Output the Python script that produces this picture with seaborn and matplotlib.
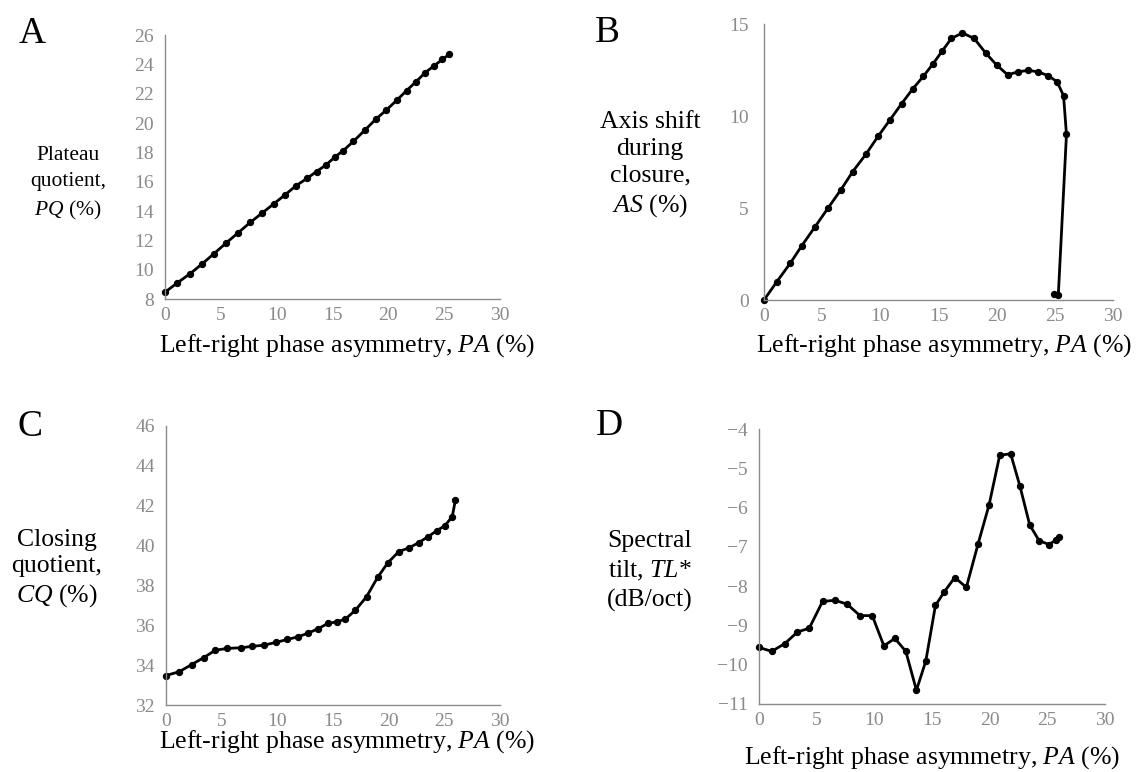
import matplotlib
matplotlib.use("Agg")
import matplotlib.pyplot as plt
import seaborn as sns
import pandas as pd

# Left-right phase asymmetry PA (%) and the four glottal measures
pa_a = [0, 1.1, 2.26, 3.33, 4.39, 5.46, 6.53, 7.63, 8.7, 9.74, 10.75, 11.73, 12.71, 13.57,
        14.43, 15.2, 15.97, 16.86, 17.87, 18.88, 19.83, 20.78, 21.64, 22.48, 23.31, 24.11,
        24.85, 25.45]
pq = [8.46, 9.1, 9.73, 10.4, 11.09, 11.81, 12.5, 13.22, 13.86, 14.49, 15.1, 15.72, 16.22,
      16.69, 17.15, 17.67, 18.12, 18.74, 19.49, 20.26, 20.89, 21.57, 22.21, 22.82, 23.44,
      23.91, 24.34, 24.68]

pa_b = [0, 1.11, 2.26, 3.26, 4.4, 5.51, 6.6, 7.63, 8.77, 9.8, 10.83, 11.83, 12.77, 13.69,
        14.51, 15.34, 16.11, 17.06, 18.06, 19.06, 20.0, 20.94, 21.83, 22.71, 23.57, 24.43,
        25.2, 25.75, 26.0, 25.3, 24.95]
axis_shift = [0, 1.0, 2.0, 2.96, 3.99, 5.0, 5.98, 6.98, 7.93, 8.89, 9.79, 10.67, 11.46,
              12.15, 12.82, 13.55, 14.22, 14.51, 14.22, 13.42, 12.77, 12.24, 12.4, 12.48,
              12.4, 12.19, 11.86, 11.1, 9.0, 0.28, 0.35]

pa_c = [0, 1.19, 2.31, 3.39, 4.44, 5.51, 6.7, 7.7, 8.76, 9.87, 10.89, 11.85, 12.78, 13.63,
        14.53, 15.38, 16.11, 17.02, 18.01, 19.0, 19.93, 20.9, 21.83, 22.68, 23.52, 24.31,
        25.05, 25.71, 26.0]
cq = [33.48, 33.67, 34.03, 34.38, 34.75, 34.84, 34.87, 34.94, 35.0, 35.14, 35.29, 35.42,
      35.61, 35.82, 36.09, 36.18, 36.31, 36.76, 37.43, 38.4, 39.14, 39.69, 39.89, 40.14,
      40.44, 40.74, 41.0, 41.45, 42.3]

pa_d = [0, 1.1, 2.25, 3.32, 4.36, 5.51, 6.58, 7.65, 8.75, 9.82, 10.83, 11.78, 12.73, 13.65,
        14.46, 15.3, 16.08, 16.97, 17.98, 18.99, 19.95, 20.87, 21.82, 22.63, 23.47, 24.28,
        25.14, 25.72, 26.0]
tilt = [-9.56, -9.66, -9.46, -9.17, -9.07, -8.39, -8.36, -8.46, -8.75, -8.75, -9.52, -9.33,
        -9.66, -10.65, -9.91, -8.49, -8.14, -7.78, -8.03, -6.93, -5.93, -4.67, -4.63, -5.46,
        -6.44, -6.84, -6.94, -6.83, -6.76]

xticks = [0, 5, 10, 15, 20, 25, 30]
yticks_a = [8, 10, 12, 14, 16, 18, 20, 22, 24, 26]
yticks_b = [0, 5, 10, 15]
yticks_c = [32, 34, 36, 38, 40, 42, 44, 46]
yticks_d = [-11, -10, -9, -8, -7, -6, -5, -4]

sns.set_style("white")
plt.rcParams["font.family"] = ["Liberation Serif", "DejaVu Serif"]
plt.rcParams["mathtext.fontset"] = "custom"
plt.rcParams["mathtext.rm"] = "Liberation Serif"
plt.rcParams["mathtext.it"] = "Liberation Serif:italic"

W, H = 1141, 772
fig = plt.figure(figsize=(W / 100, H / 100), dpi=100)
GREY = "#8a8a8a"


def add_panel(left, right, top, bottom):
    return fig.add_axes([left / W, 1 - bottom / H, (right - left) / W, (bottom - top) / H])


def style(ax, x, y, yticks, ylim, ypad=5):
    df = pd.DataFrame({"x": x, "y": y})
    sns.lineplot(data=df, x="x", y="y", ax=ax, sort=False, color="black", linewidth=2.0,
                 marker="o", markersize=4.5, markeredgecolor="black", estimator=None)
    ax.set_xlim(0, 30)
    ax.set_ylim(*ylim)
    ax.set_xticks(xticks)
    ax.set_yticks(yticks)
    ax.set_xlabel("")
    ax.set_ylabel("")
    for s in ("top", "right"):
        ax.spines[s].set_visible(False)
    for s in ("left", "bottom"):
        ax.spines[s].set_color(GREY)
        ax.spines[s].set_linewidth(1.0)
    ax.tick_params(axis="both", direction="out", length=3, width=1.0, color=GREY,
                   labelcolor=GREY, labelsize=14)
    ax.tick_params(axis="x", pad=3)
    ax.tick_params(axis="y", pad=ypad)
    ax.patch.set_alpha(0)
    for line in ax.lines:
        line.set_clip_on(False)


axA = add_panel(165, 500, 35, 299)
style(axA, pa_a, pq, yticks_a, (8, 26))
axB = add_panel(764, 1113, 24, 300)
style(axB, pa_b, axis_shift, yticks_b, (0, 15), ypad=8)
axC = add_panel(166, 500, 426, 705)
style(axC, pa_c, cq, yticks_c, (32, 46))
axD = add_panel(759, 1105, 429, 704)
style(axD, pa_d, tilt, yticks_d, (-11, -4))


def ftext(x, y, s, **kw):
    fig.text(x / W, 1 - y / H, s, ha="center", va="center", color="black", **kw)


for letter, (x, y) in {"A": (32, 34), "B": (607, 33), "C": (30, 427), "D": (609, 426)}.items():
    ftext(x, y, letter, fontsize=27)

LAB = 18.5
ftext(68, 184, "Plateau\nquotient,\n$PQ$ (%)", fontsize=15.5, linespacing=1.5)
ftext(650, 165, "Axis shift\nduring\nclosure,\n$AS$ (%)", fontsize=LAB, linespacing=1.3)
ftext(57, 569, "Closing\nquotient,\n$CQ$ (%)", fontsize=LAB, linespacing=1.25)
ftext(650, 571, "Spectral\ntilt, $TL$*\n(dB/oct)", fontsize=LAB, linespacing=1.35)

xlabel = "Left-right phase asymmetry, $PA$ (%)"
ftext(347, 346, xlabel, fontsize=LAB)
ftext(944, 346, xlabel, fontsize=LAB)
ftext(347, 742, xlabel, fontsize=LAB)
ftext(932, 758, xlabel, fontsize=LAB)

fig.savefig("out.png", dpi=100)
